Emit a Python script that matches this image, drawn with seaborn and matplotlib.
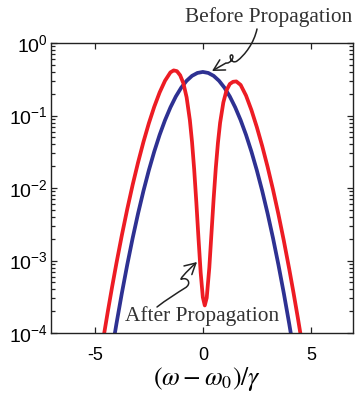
import numpy as np
import pandas as pd
import seaborn as sns
import matplotlib
matplotlib.use("Agg")
import matplotlib.pyplot as plt
from matplotlib.path import Path
from matplotlib.patches import FancyArrowPatch
from matplotlib.transforms import IdentityTransform
from matplotlib.ticker import LogLocator, FixedLocator, NullLocator

# ---------------- data (y stored as log10 of intensity) ----
blue_x = [-4.5, -4.25, -4.0, -3.75, -3.5, -3.25, -3.0, -2.75, -2.5, -2.25, -2.0,
          -1.75, -1.5, -1.25, -1.0, -0.75, -0.5, -0.25, 0.0, 0.25, 0.5, 0.75,
          1.0, 1.25, 1.5, 1.75, 2.0, 2.25, 2.5, 2.75, 3.0, 3.25, 3.5, 3.75, 4.0,
          4.25, 4.5]
blue_log = [-4.795, -4.320, -3.873, -3.452, -3.059, -2.692, -2.353, -2.041, -1.756,
            -1.498, -1.267, -1.064, -0.888, -0.738, -0.616, -0.521, -0.453, -0.413,
            -0.399, -0.413, -0.453, -0.521, -0.616, -0.738, -0.888, -1.064, -1.267,
            -1.498, -1.756, -2.041, -2.353, -2.692, -3.059, -3.452, -3.873, -4.320,
            -4.795]

red_x = [-4.8, -4.6, -4.4, -4.2, -4.0, -3.75, -3.5, -3.25, -3.0, -2.75, -2.5,
         -2.25, -2.0, -1.75, -1.5, -1.35, -1.2, -1.05, -0.9, -0.75, -0.6, -0.5,
         -0.4, -0.3, -0.2, -0.1, 0.0, 0.09, 0.18, 0.3, 0.4, 0.5, 0.6, 0.7, 0.8,
         0.95, 1.1, 1.25, 1.4, 1.55, 1.75, 2.0, 2.25, 2.5, 2.75, 3.0, 3.25, 3.5,
         3.75, 4.0, 4.2, 4.4, 4.6, 4.8]
red_log = [-4.437, -4.063, -3.705, -3.363, -3.037, -2.652, -2.292, -1.957, -1.649,
           -1.365, -1.108, -0.880, -0.682, -0.520, -0.405, -0.378, -0.388, -0.445,
           -0.555, -0.750, -1.065, -1.365, -1.746, -2.201, -2.698, -3.167, -3.507,
           -3.620, -3.515, -3.100, -2.625, -2.150, -1.725, -1.375, -1.100, -0.820,
           -0.650, -0.565, -0.535, -0.530, -0.578, -0.725, -0.925, -1.160, -1.422,
           -1.710, -2.023, -2.362, -2.727, -3.117, -3.447, -3.793, -4.155, -4.533]

x_ticks = [-5, 0, 5]
x_tick_labels = ["-5", "0", "5"]
label_before = "Before Propagation"
label_after = "After Propagation"
x_label = r"$(\omega-\omega_0)/\gamma$"

RED = "#ED1C24"
BLUE = "#2E3192"
TXT = "#333333"

# ---------------- figure ----------------
sns.set_theme(style="ticks")
plt.rcParams["font.family"] = ["Liberation Sans", "DejaVu Sans"]
plt.rcParams["mathtext.fontset"] = "stix"
plt.rcParams["axes.unicode_minus"] = False

W, H = 355, 395
fig = plt.figure(figsize=(W / 100, H / 100), dpi=100)
ax = fig.add_axes([51 / W, 1 - 333 / H, (352.5 - 51) / W, (333 - 43) / H])

df_blue = pd.DataFrame({"x": blue_x, "y": np.power(10.0, blue_log)})
df_red = pd.DataFrame({"x": red_x, "y": np.power(10.0, red_log)})

ax.set_yscale("log")
sns.lineplot(data=df_blue, x="x", y="y", ax=ax, color=BLUE, lw=2.7,
             sort=False, estimator=None)
sns.lineplot(data=df_red, x="x", y="y", ax=ax, color=RED, lw=2.7,
             sort=False, estimator=None)

ax.set_xlim(-7.03, 6.93)
ax.set_ylim(1e-4, 1e0)
ax.xaxis.set_major_locator(FixedLocator(x_ticks))
ax.set_xticklabels(x_tick_labels)
ax.xaxis.set_minor_locator(NullLocator())
ax.yaxis.set_major_locator(LogLocator(base=10, numticks=10))
ax.yaxis.set_minor_locator(LogLocator(base=10, subs=np.arange(2, 10), numticks=10))

for s in ax.spines.values():
    s.set_color("#222222")
    s.set_linewidth(1.0)
ax.tick_params(which="both", direction="in", top=True, right=True,
               color="#222222", width=0.9)
ax.tick_params(which="major", length=4.5)
ax.tick_params(which="minor", length=2.8)
ax.tick_params(axis="x", which="major", labelsize=13, pad=10, labelcolor="black")
ax.tick_params(axis="y", which="major", labelsize=14, pad=2.5, labelcolor="black")
ax.set_xlabel("")
ax.set_ylabel("")

fig.text(207 / W, 1 - 385 / H, x_label, fontsize=18.5, ha="center", va="baseline",
         color="black")

serif = ["Liberation Serif", "DejaVu Serif"]
fig.text(185 / W, 1 - 22 / H, label_before, family=serif, fontsize=15.4,
         color=TXT, ha="left", va="baseline")
fig.text(125 / W, 1 - 320.5 / H, label_after, family=serif, fontsize=15.4,
         color=TXT, ha="left", va="baseline")


def px(pts):
    return [(x, H - y) for x, y in pts]


before_pts = px([(257, 29), (254, 43), (245, 55), (237, 61),
                 (231, 65), (228, 54), (232, 55),
                 (235, 57), (230, 64), (226, 63),
                 (212, 71)])
before_codes = [Path.MOVETO, Path.CURVE4, Path.CURVE4, Path.CURVE4,
                Path.CURVE4, Path.CURVE4, Path.CURVE4,
                Path.CURVE4, Path.CURVE4, Path.CURVE4,
                Path.LINETO]
after_pts = px([(157, 307), (166, 300), (177, 293), (185, 288),
                (192, 284), (188, 277), (182, 279),
                (178, 281), (186, 272), (197, 262)])
after_codes = [Path.MOVETO, Path.CURVE4, Path.CURVE4, Path.CURVE4,
               Path.CURVE4, Path.CURVE4, Path.CURVE4,
               Path.CURVE4, Path.CURVE4, Path.CURVE4]

for pts, codes in [(before_pts, before_codes), (after_pts, after_codes)]:
    arr = FancyArrowPatch(path=Path(pts, codes),
                          arrowstyle="->,head_length=0.55,head_width=0.3",
                          mutation_scale=14, lw=1.1, color="#222222",
                          transform=IdentityTransform())
    fig.add_artist(arr)

fig.savefig("out.png", dpi=100)
